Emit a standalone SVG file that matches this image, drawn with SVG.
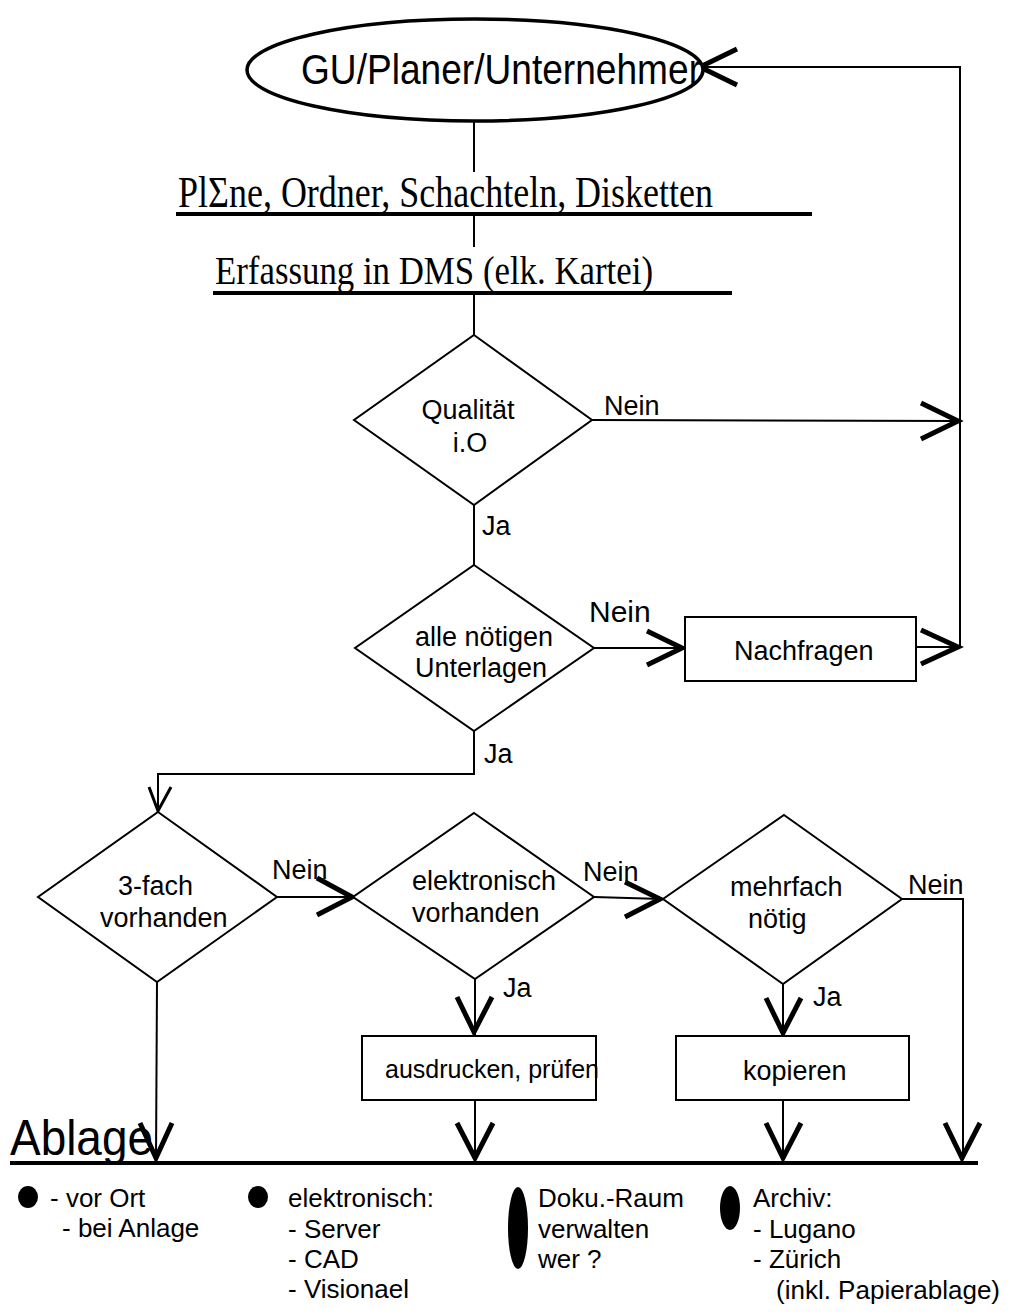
<svg xmlns="http://www.w3.org/2000/svg" width="1010" height="1314" viewBox="0 0 1010 1314">
<style>
.ln{fill:none;stroke:#000;stroke-width:2}
.sh{fill:#fff;stroke:#000;stroke-width:2}
.ah{fill:none;stroke:#000;stroke-width:5;stroke-linecap:butt;stroke-linejoin:miter}
.ul{stroke:#000;stroke-width:4}
.t{font-family:"Liberation Sans",Arial,sans-serif;font-size:27px;fill:#000}
.s{font-family:"Liberation Serif","Times New Roman",serif;fill:#000}
.lg{font-family:"Liberation Sans",Arial,sans-serif;font-size:26px;fill:#000}
</style>
<rect width="1010" height="1314" fill="#fff"/>

<g id="connectors">
  <line class="ln" x1="474" y1="121" x2="474" y2="172"/>
  <line class="ln" x1="474" y1="215" x2="474" y2="247"/>
  <line class="ln" x1="474" y1="293" x2="474" y2="335"/>
  <polyline class="ln" points="592,420 960,421"/>
  <polyline class="ah" points="921,403 958,421 921,439"/>
  <line class="ln" x1="474" y1="505" x2="474" y2="565"/>
  <line class="ln" x1="594" y1="648" x2="683" y2="648"/>
  <polyline class="ah" points="647,631 682,648 647,665"/>
  <line class="ln" x1="916" y1="647" x2="960" y2="647"/>
  <polyline class="ah" points="921,630 958,647 921,664"/>
  <polyline class="ln" points="960,647 960,67 700,67"/>
  <polyline class="ah" points="737,49 700,67 737,85"/>
  <polyline class="ln" points="474,731 474,774 158,774 158,812"/>
  <polyline class="ah" style="stroke-width:3" points="149,787 158,811 171,787"/>
  <line class="ln" x1="277" y1="897" x2="353" y2="897"/>
  <polyline class="ah" points="317,878 352,897 317,915"/>
  <line class="ln" x1="594" y1="897" x2="662" y2="899"/>
  <polyline class="ah" points="625,882 660,899 625,917"/>
  <line class="ln" x1="475" y1="979" x2="475" y2="1036"/>
  <polyline class="ah" points="457,997 474,1032 492,997"/>
  <line class="ln" x1="783" y1="984" x2="783" y2="1036"/>
  <polyline class="ah" points="766,998 783,1033 801,998"/>
  <polyline class="ln" points="902,899 963,899 963,1160"/>
  <line class="ln" x1="157" y1="982" x2="156" y2="1160"/>
  <line class="ln" x1="475" y1="1100" x2="475" y2="1160"/>
  <line class="ln" x1="783" y1="1100" x2="783" y2="1160"/>
  <polyline class="ah" points="140,1123 156,1158 172,1123"/>
  <polyline class="ah" points="457,1123 475,1158 493,1123"/>
  <polyline class="ah" points="766,1123 783,1158 801,1123"/>
  <polyline class="ah" points="945,1123 962,1158 980,1123"/>
  <text class="t" x="604" y="415">Nein</text>
  <text class="t" x="482" y="535">Ja</text>
  <text class="t" x="589" y="622" style="font-size:30px">Nein</text>
  <text class="t" x="484" y="763">Ja</text>
  <text class="t" x="272" y="879">Nein</text>
  <text class="t" x="583" y="881">Nein</text>
  <text class="t" x="908" y="894">Nein</text>
  <text class="t" x="503" y="997">Ja</text>
  <text class="t" x="813" y="1006">Ja</text>
</g>

<g id="start">
  <ellipse cx="475" cy="70" rx="228" ry="51" fill="#fff" stroke="#000" stroke-width="3.5"/>
  <text class="t" x="301" y="84" style="font-size:42px" textLength="400" lengthAdjust="spacingAndGlyphs">GU/Planer/Unternehmer</text>
</g>

<g id="plaene">
  <text class="s" x="178" y="207" style="font-size:44px" textLength="535" lengthAdjust="spacingAndGlyphs">PlΣne, Ordner, Schachteln, Disketten</text>
  <line class="ul" x1="176" y1="214" x2="812" y2="214"/>
</g>

<g id="erfassung">
  <text class="s" x="215" y="284" style="font-size:41px" textLength="438" lengthAdjust="spacingAndGlyphs">Erfassung in DMS (elk. Kartei)</text>
  <line class="ul" x1="213" y1="293" x2="732" y2="293"/>
</g>

<g id="qualitaet">
  <polygon class="sh" points="474,335 592,420 474,505 354,420"/>
  <text class="t" x="468" y="419" text-anchor="middle">Qualität</text>
  <text class="t" x="470" y="452" text-anchor="middle">i.O</text>
</g>

<g id="unterlagen">
  <polygon class="sh" points="474,565 594,648 474,731 355,648"/>
  <text class="t" x="415" y="646">alle nötigen</text>
  <text class="t" x="415" y="677">Unterlagen</text>
</g>

<g id="nachfragen">
  <rect class="sh" x="685" y="617" width="231" height="64"/>
  <text class="t" x="734" y="660">Nachfragen</text>
</g>

<g id="dreifach">
  <polygon class="sh" points="158,812 277,897 157,982 38,897"/>
  <text class="t" x="118" y="895">3-fach</text>
  <text class="t" x="100" y="927">vorhanden</text>
</g>

<g id="elektronisch">
  <polygon class="sh" points="474,813 594,897 475,979 353,897"/>
  <text class="t" x="412" y="890">elektronisch</text>
  <text class="t" x="412" y="922">vorhanden</text>
</g>

<g id="mehrfach">
  <polygon class="sh" points="784,815 902,899 783,984 663,899"/>
  <text class="t" x="730" y="896">mehrfach</text>
  <text class="t" x="748" y="928">nötig</text>
</g>

<g id="ausdrucken">
  <rect class="sh" x="362" y="1036" width="234" height="64"/>
  <text class="t" x="385" y="1078" style="font-size:25px">ausdrucken, prüfen</text>
</g>

<g id="kopieren">
  <rect class="sh" x="676" y="1036" width="233" height="64"/>
  <text class="t" x="743" y="1080">kopieren</text>
</g>

<g id="ablage">
  <text class="t" x="10" y="1155" style="font-size:50px" textLength="143" lengthAdjust="spacingAndGlyphs">Ablage</text>
  <line class="ul" x1="10" y1="1163" x2="978" y2="1163"/>
</g>

<g id="legend">
  <ellipse cx="28" cy="1197" rx="10" ry="11" fill="#000"/>
  <text class="lg" x="50" y="1207">- vor Ort</text>
  <text class="lg" x="62" y="1237">- bei Anlage</text>
  <ellipse cx="258" cy="1197" rx="10" ry="11" fill="#000"/>
  <text class="lg" x="288" y="1207">elektronisch:</text>
  <text class="lg" x="288" y="1238">- Server</text>
  <text class="lg" x="288" y="1268">- CAD</text>
  <text class="lg" x="288" y="1298">- Visionael</text>
  <ellipse cx="518" cy="1228" rx="10" ry="41" fill="#000"/>
  <text class="lg" x="538" y="1207">Doku.-Raum</text>
  <text class="lg" x="538" y="1238">verwalten</text>
  <text class="lg" x="538" y="1268">wer ?</text>
  <ellipse cx="730" cy="1208" rx="10" ry="22" fill="#000"/>
  <text class="lg" x="753" y="1207">Archiv:</text>
  <text class="lg" x="753" y="1238">- Lugano</text>
  <text class="lg" x="753" y="1268">- Zürich</text>
  <text class="lg" x="776" y="1299">(inkl. Papierablage)</text>
</g>
</svg>
